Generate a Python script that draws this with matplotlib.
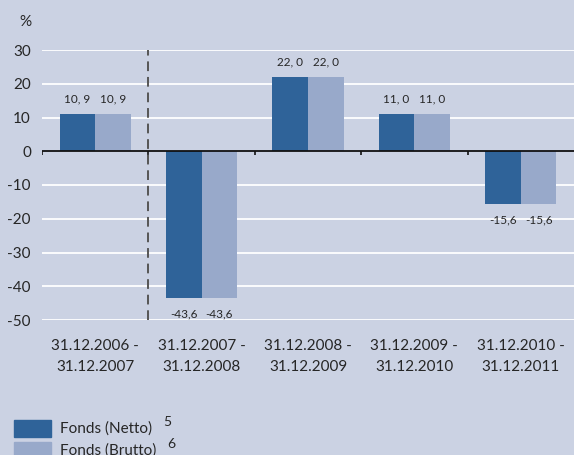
import numpy as np
import matplotlib
matplotlib.use('Agg')
import matplotlib.pyplot as plt
from matplotlib.patches import Rectangle

periods = ['31.12.2006 -\n31.12.2007', '31.12.2007 -\n31.12.2008', '31.12.2008 -\n31.12.2009',
           '31.12.2009 -\n31.12.2010', '31.12.2010 -\n31.12.2011']
netto = [10.9, -43.6, 22.0, 11.0, -15.6]
brutto = [10.9, -43.6, 22.0, 11.0, -15.6]
series_names = ['Fonds (Netto)', 'Fonds (Brutto)']
footnotes = ['5', '6']
yticks = [30, 20, 10, 0, -10, -20, -30, -40, -50]

bg = '#CBD2E3'
c_dark = '#2F6399'
c_light = '#98A9CA'
txt = '#262626'

plt.rcParams['font.family'] = ['Lato', 'DejaVu Sans']

fig = plt.figure(figsize=(5.74, 4.55), dpi=100, facecolor=bg)
ax = fig.add_axes([42/574, 1 - 320/455, 1 - 42/574, 270/455])
ax.set_facecolor(bg)

x = np.arange(len(periods))
w = 0.335
for i, (vals, col) in enumerate([(netto, c_dark), (brutto, c_light)]):
    xs = x - w/2 + i*w
    ax.bar(xs, vals, width=w, color=col, zorder=3)
    for xi, v in zip(xs, vals):
        lab = f'{v:.1f}'.replace('.', ', ' if v >= 0 else ',')
        if v >= 0:
            ax.annotate(lab, (xi, v), xytext=(0, 7), textcoords='offset points',
                        ha='center', va='bottom', fontsize=8.5, color=txt)
        else:
            ax.annotate(lab, (xi, v), xytext=(0, -7.5), textcoords='offset points',
                        ha='center', va='top', fontsize=8.5, color=txt)

ax.set_xlim(-0.5, len(periods) - 0.5)
ax.set_ylim(-50, 30)
ax.set_yticks(yticks)
ax.set_yticklabels([str(t) for t in yticks], fontsize=11, color=txt)
ax.set_xticks(x)
ax.set_xticklabels(periods, fontsize=11, color=txt, linespacing=1.6)
ax.tick_params(axis='both', length=0)
ax.tick_params(axis='x', pad=14)
ax.tick_params(axis='y', pad=8)
for s in ax.spines.values():
    s.set_visible(False)

for t in yticks:
    if t != 0:
        ax.axhline(t, color='white', lw=1.3, zorder=1)
ax.axhline(0, color='#111111', lw=1.3, zorder=4)
ax.vlines(np.arange(len(periods)) - 0.5, -1.2, 0, color='#111111', lw=1.2, zorder=4)
ax.plot([0.5, 0.5], [-50, 30], color='#555555', lw=1.4, ls=(0, (5, 3)), zorder=5)

fig.text(25/574, 1 - 22/455, '%', fontsize=11, color=txt, ha='center', va='center')

for j, (name, col, fn) in enumerate(zip(series_names, [c_dark, c_light], footnotes)):
    y0 = 420 + j*22
    fig.add_artist(Rectangle((14/574, 1 - (y0 + 17)/455), 37/574, 17/455,
                             transform=fig.transFigure, color=col))
    fig.text(60/574, 1 - (y0 + 9)/455, name, fontsize=11, color=txt, ha='left', va='center')
    fig.text((163 + j*4)/574, 1 - (y0 + 2)/455, fn, fontsize=10, color=txt, ha='left', va='center')

fig.savefig('out.png', dpi=100, facecolor=bg)
